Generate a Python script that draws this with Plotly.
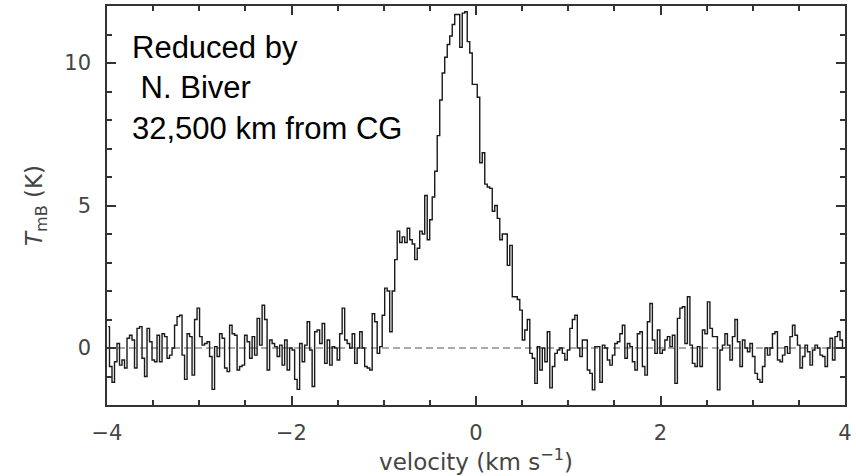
import numpy as np
import plotly.graph_objects as go

# Spectrum: velocity grid start/end (km/s) and main-beam temperature (K) per channel
v_start = -4.0
v_end = 4.0

t_far_blue = [0.75, -0.65, -1.2, -0.48, 0.16, -0.6, -0.42, -0.7, 0.34, 0.45, 0.28, -0.7, 0.69, 0.75,
              -0.36, -1.0, 0.69, 0.22, -0.42, -0.48, 0.45, -0.48, 0.5, 0.4, -0.36, -0.25, 0.0, 0.8,
              1.1, 1.15, -0.25, -1.1, 0.5, 0.4, -0.95, 1.0, 1.4, 0.4, 0.1, 0.16, 0.22, -0.3, -1.45,
              0.05, -0.3, 0.5, 0.34, -0.7, -0.83]
t_near_blue = [0.8, 0.5, 0.45, -0.77, -0.65, -0.6, 0.45, 0.22, -0.36, 0.4, -0.25, 1.04, 0.1, 1.5,
               1.0, -0.77, 0.28, 0.16, 0.05, -0.3, 0.1, -0.6, 0.28, -0.77, 0.0, -0.07, -1.1, -1.45,
               0.16, -0.48, 0.1, 0.92, -0.07, -1.35, 0.57, 0.63, 0.16, 0.86, -0.54, 0.28, -0.6,
               0.05, 0.0, -0.42, 0.5, 1.4, 0.28, 0.16, 0.0]
t_line_rise = [0.5, -0.54, 0.0, 0.57, 0.0, -0.65, -0.7, -0.77, 1.2, 0.92, -0.19, 0.05, 1.15, 2.1,
               2.0, 0.57, 2.0, 3.1, 4.1, 3.7, 3.9, 3.7, 4.2, 3.8, 3.65, 3.1, 3.5, 4.1, 4.0, 5.35,
               3.8, 4.5, 5.3, 6.2, 7.45, 8.7, 9.65, 10.2, 10.65, 10.95, 11.35, 11.7, 11.7, 10.55,
               11.75, 11.8, 10.75, 10.35, 9.25]
t_line_fall = [9.25, 8.8, 6.5, 6.85, 5.75, 5.65, 5.6, 4.8, 5.0, 4.55, 3.8, 4.0, 4.0, 2.9, 3.6, 1.8,
               1.8, 1.7, 1.33, 0.28, 0.63, 1.0, -0.19, -0.36, -1.24, 0.05, -0.77, 0.0, -0.48, 0.57,
               -1.4, -0.65, -0.19, -0.07, 0.0, -0.19, -0.42, -0.07, 0.69, 1.0, 1.15, 0.0, -0.3,
               0.28, 0.28, -0.77, -0.89, -1.47, 0.05]
t_near_red = [0.05, -1.2, 0.1, 0.0, -0.42, -0.6, -0.25, 0.16, 0.22, 0.5, 0.8, -0.36, 0.16, 0.05,
              -0.48, -0.77, 0.5, 0.57, -0.65, -0.95, 0.92, 1.56, 0.28, -0.19, 0.63, -0.19, -0.07,
              0.28, 0.4, 0.05, 0.45, -1.24, 1.04, 1.4, 1.45, 0.16, 1.8, 0.1, -0.54, -0.65, 0.05,
              -0.65, 0.63, 0.5, 1.62, 0.69, 0.4, 0.4, -1.47, -0.07]
t_far_red = [0.1, 0.5, 0.1, -0.42, 0.4, 1.0, 0.22, -0.65, 0.28, 0.0, -0.13, 0.16, -0.3, -0.89,
             -1.1, -1.2, -0.65, 0.0, -0.25, 0.0, 0.5, 0.57, -0.42, -0.48, -0.25, 0.05, -0.19, 0.4,
             0.8, 0.45, 0.1, -0.7, -0.3, 0.1, -0.13, -0.6, -0.07, 0.1, 0.0, -0.25, -0.3, -0.65,
             0.0, 0.34, -0.42, 0.4, 0.57, 0.28, 0.0]

x_ticks = [-4, -2, 0, 2, 4]
y_ticks = [0, 5, 10]
note_lines = ["Reduced by", "\u00a0N. Biver", "32,500 km from CG"]

temps = t_far_blue + t_near_blue + t_line_rise + t_line_fall + t_near_red + t_far_red
n = len(temps)
dv = (v_end - v_start) / n
vel = [v_start + (i + 0.5) * dv for i in range(n)]

fig = go.Figure()
fig.add_trace(go.Scatter(x=vel, y=temps, mode="lines", line_shape="hvh",
                         line=dict(color="#1a1a1a", width=1.4), showlegend=False,
                         hoverinfo="skip"))

fig.add_shape(type="line", xref="x", yref="y", x0=v_start, x1=v_end, y0=0, y1=0,
              line=dict(color="#555555", width=1, dash="7px,4px"), layer="below")

fig.add_annotation(xref="paper", yref="paper", x=0.031, y=0.945, xanchor="left", yanchor="top",
                   text="<br>".join(note_lines), showarrow=False, align="left",
                   font=dict(family="Liberation Sans, Arial, sans-serif", size=31, color="black"))

axis_common = dict(showline=True, linecolor="#333333", linewidth=1.5, mirror="ticks",
                   ticks="inside", ticklen=9, tickwidth=1.5, tickcolor="#333333",
                   showgrid=False, zeroline=False, automargin=False,
                   tickfont=dict(family="DejaVu Sans, sans-serif", size=21, color="#444444"))

fig.update_xaxes(range=[v_start, v_end], tickvals=x_ticks, ticklabelstandoff=8,
                 minor=dict(dtick=0.5, ticks="inside", ticklen=5, tickwidth=1.5, tickcolor="#333333"),
                 title=dict(text="velocity (km s<sup>\u22121</sup>)", standoff=1,
                            font=dict(family="DejaVu Sans, sans-serif", size=23, color="#444444")),
                 **axis_common)
fig.update_yaxes(range=[-2, 12], tickvals=y_ticks, ticklabelstandoff=10,
                 minor=dict(dtick=1, ticks="inside", ticklen=5, tickwidth=1.5, tickcolor="#333333"),
                 title=dict(text="<i>T</i><sub>mB</sub> (K)", standoff=15,
                            font=dict(family="DejaVu Sans, sans-serif", size=23, color="#444444")),
                 **axis_common)

fig.update_layout(width=856, height=476, margin=dict(l=107, r=11, t=6, b=71),
                  plot_bgcolor="white", paper_bgcolor="white")

fig.write_html("out.html", config={"displayModeBar": False},
               post_script="document.body.style.margin='0';document.body.style.overflow='hidden';")
